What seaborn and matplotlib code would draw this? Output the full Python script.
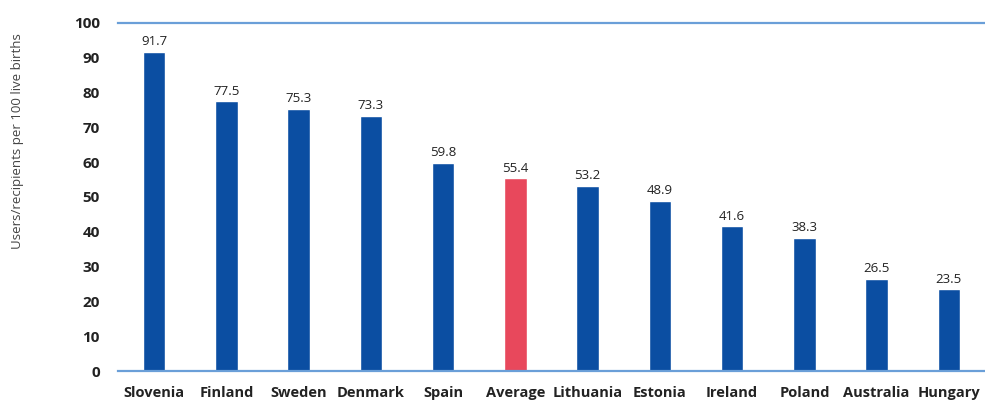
import matplotlib
matplotlib.use("Agg")
import matplotlib.pyplot as plt
import seaborn as sns
import pandas as pd

countries = ["Slovenia", "Finland", "Sweden", "Denmark", "Spain", "Average",
             "Lithuania", "Estonia", "Ireland", "Poland", "Australia", "Hungary"]
values = [91.7, 77.5, 75.3, 73.3, 59.8, 55.4, 53.2, 48.9, 41.6, 38.3, 26.5, 23.5]
y_ticks = [0, 10, 20, 30, 40, 50, 60, 70, 80, 90, 100]
y_label = "Users/recipients per 100 live births"

BLUE = "#0b4ea2"
RED = "#e8485c"
LINE = "#6a9fd8"

sns.set_theme(style="white")
plt.rcParams["font.family"] = ["Open Sans", "DejaVu Sans"]

df = pd.DataFrame({"country": countries, "value": values})
palette = {c: (RED if c == "Average" else BLUE) for c in countries}

fig = plt.figure(figsize=(9.85, 4.03), dpi=100)
ax = fig.add_axes([0.1198, 0.0794, 0.8802, 0.8636])

sns.barplot(data=df, x="country", y="value", hue="country", palette=palette,
            order=countries, width=0.31, legend=False, ax=ax, saturation=1)

ax.set_xlim(-0.5, len(countries) - 0.5)
ax.set_ylim(0, 100)
ax.set_yticks(y_ticks)
ax.set_yticklabels([str(t) for t in y_ticks], fontsize=11, fontweight="bold", color="#222222")
ax.tick_params(axis="y", length=0, pad=13)
ax.tick_params(axis="x", length=0, pad=11)
for lbl in ax.get_xticklabels():
    lbl.set_fontweight("bold")
    lbl.set_fontsize(10.5)
    lbl.set_color("#222222")

ax.set_xlabel("")
ax.set_ylabel("")
fig.text(0.018, 0.65, y_label, rotation=90, ha="center", va="center",
         fontsize=9.5, color="#444444")

for s in ["left", "right"]:
    ax.spines[s].set_visible(False)
for s in ["top", "bottom"]:
    ax.spines[s].set_visible(True)
    ax.spines[s].set_color(LINE)
    ax.spines[s].set_linewidth(1.6)

for i, v in enumerate(values):
    ax.text(i, v + 1.0, f"{v:.1f}", ha="center", va="bottom", fontsize=9.5, color="#222222")

fig.savefig("out.png", dpi=100)
